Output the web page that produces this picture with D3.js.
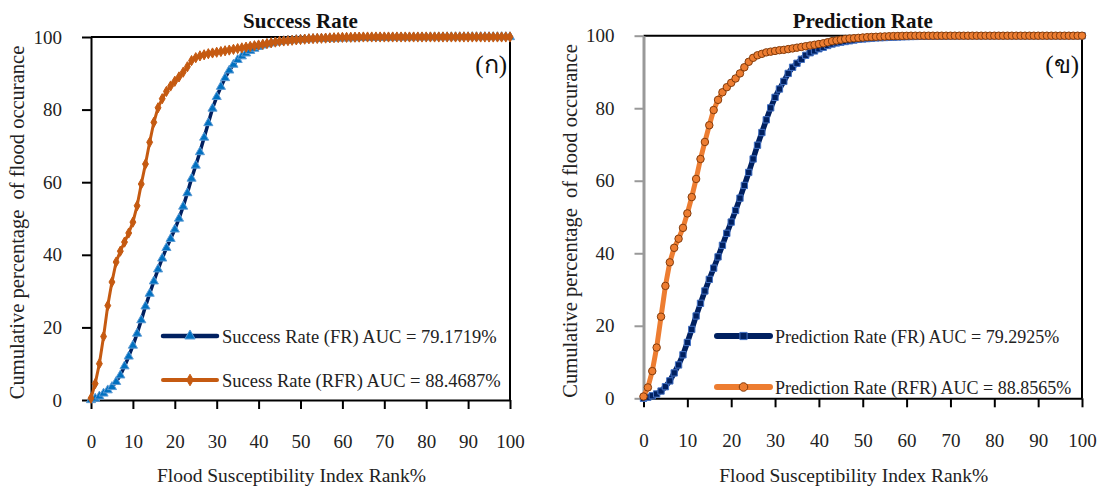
<!DOCTYPE html>
<html>
<head>
<meta charset="utf-8">
<script src="https://cdn.jsdelivr.net/npm/d3@7"></script>
<style>
  body { margin: 0; background: #fff; }
  svg { display: block; font-family: "Liberation Serif", "Times New Roman", serif; }
</style>
</head>
<body>
<div id="chart"></div>
<script>
const width = 1107;
const height = 486;

// rank % (x categories)
const rankPct = [0,1,2,3,4,5,6,7,8,9,10,11,12,13,14,15,16,17,18,19,20,21,22,23,24,25,26,27,28,29,30,
  31,32,33,34,35,36,37,38,39,40,41,42,43,44,45,46,47,48,49,50,51,52,53,54,55,56,57,58,59,60,
  61,62,63,64,65,66,67,68,69,70,71,72,73,74,75,76,77,78,79,80,81,82,83,84,85,86,87,88,89,90,
  91,92,93,94,95,96,97,98,99,100];

const xTicks = [0,10,20,30,40,50,60,70,80,90,100];
const yTicks = [0,20,40,60,80,100];

// success rate, FR
const successFR = [0,0.4,1,1.8,2.7,3.6,5,6.8,9.3,12,15,18.3,22,25.8,29.3,32.7,36,39,41.9,44.4,47,
  50,53.3,57,61,64.6,68.3,72.3,76.3,80.3,83.5,86.3,88.7,90.8,92.4,93.7,94.7,95.5,96.2,96.8,97.3,
  97.7,98,98.3,98.5,98.7,98.9,99,99.1,99.2,99.3,99.35,99.4,99.45,99.5,99.52,99.55,99.58,99.6,99.62,99.65,
  99.68,99.7,99.72,99.74,99.76,99.78,99.8,99.82,99.84,99.85,99.86,99.87,99.88,99.89,99.9,99.9,99.91,99.92,99.93,99.94,
  99.95,99.95,99.96,99.96,99.97,99.97,99.98,99.98,99.99,99.99,100,100,100,100,100,100,100,100,100,100];

// success rate, RFR
const successRFR = [0.5,4.5,10,17.5,26,32.5,38,41,43.5,46,49,53.5,59.5,65,71,76.5,80.5,83,85,86.5,87.8,
  89,90.3,91.8,93.5,94.3,94.8,95.1,95.4,95.6,95.8,96,96.2,96.4,96.6,96.8,97,97.2,97.4,97.6,97.8,
  98,98.2,98.4,98.6,98.8,98.9,99,99.1,99.2,99.3,99.4,99.5,99.55,99.6,99.65,99.7,99.75,99.8,99.85,99.9,
  99.9,99.92,99.95,99.97,100,100,100,100,100,100,100,100,100,100,100,100,100,100,100,100,
  100,100,100,100,100,100,100,100,100,100,100,100,100,100,100,100,100,100,100,100];

// prediction rate, FR
const predictionFR = [0,0.3,0.7,1.2,2,3.2,4.8,7,9.2,12,15.4,19,22.7,26.2,29.6,32.8,35.9,39,42.2,45.5,48.6,
  51.8,55.2,58.7,62.3,66,69.8,73.3,76.8,80.1,83,85.3,87.4,89.6,91.3,92.4,93.5,94.6,95.3,95.8,96.4,
  96.8,97.3,97.7,98,98.2,98.4,98.6,98.8,99,99.1,99.2,99.3,99.4,99.45,99.5,99.55,99.6,99.65,99.7,99.75,
  99.78,99.8,99.83,99.85,99.87,99.89,99.9,99.92,99.94,99.95,99.96,99.97,99.98,99.99,100,100,100,100,100,100,
  100,100,100,100,100,100,100,100,100,100,100,100,100,100,100,100,100,100,100,100];

// prediction rate, RFR
const predictionRFR = [0.5,3,7.5,14,22.5,31,37.5,41.5,44,47,51,55.5,60.5,66,70.7,75.3,79.5,82.3,84.4,85.8,87,
  88.2,89.6,91.3,92.8,93.9,94.6,95,95.4,95.6,95.8,96,96.1,96.3,96.5,96.7,96.9,97.1,97.3,97.5,97.7,
  97.9,98.2,98.5,98.7,98.9,99.1,99.2,99.3,99.4,99.5,99.6,99.65,99.7,99.75,99.8,99.85,99.9,99.92,99.95,99.97,
  100,100,100,100,100,100,100,100,100,100,100,100,100,100,100,100,100,100,100,100,
  100,100,100,100,100,100,100,100,100,100,100,100,100,100,100,100,100,100,100,100];

const svg = d3.select("#chart").append("svg")
    .attr("width", width)
    .attr("height", height);

function drawPanel(cfg) {
  const x = d3.scaleLinear().domain([0, 100]).range([cfg.left, cfg.right]);
  const y = d3.scaleLinear().domain([0, 100]).range([cfg.bottom, cfg.top]);
  const g = svg.append("g");

  // frame top + right
  g.append("path")
      .attr("d", `M${cfg.left},${cfg.top}H${cfg.right}V${cfg.bottom}`)
      .attr("fill", "none").attr("stroke", "#000").attr("stroke-width", 2);

  // y axis
  const ya = g.append("g")
      .attr("transform", `translate(${cfg.left},0)`)
      .call(d3.axisLeft(y).tickValues(yTicks).tickSize(9).tickSizeOuter(0).tickPadding(20));
  ya.select(".domain").attr("stroke", cfg.yAxisColor).attr("stroke-width", cfg.yAxisWidth);
  ya.selectAll(".tick line").attr("stroke", cfg.yAxisColor).attr("stroke-width", 2);
  ya.selectAll(".tick text").attr("fill", "#222").attr("font-size", 19)
      .attr("font-family", "Liberation Serif");

  // x axis
  const xa = g.append("g")
      .attr("transform", `translate(0,${cfg.bottom})`)
      .call(d3.axisBottom(x).tickValues(xTicks).tickSize(9).tickSizeOuter(0).tickPadding(26));
  xa.select(".domain").attr("stroke", "#000").attr("stroke-width", 2);
  xa.selectAll(".tick line").attr("stroke", "#000").attr("stroke-width", 2);
  xa.selectAll(".tick text").attr("fill", "#222").attr("font-size", 19)
      .attr("font-family", "Liberation Serif");

  // titles
  g.append("text")
      .attr("x", (cfg.left + cfg.right) / 2).attr("y", 28)
      .attr("text-anchor", "middle").attr("font-size", 21).attr("font-weight", "bold")
      .attr("fill", "#111").text(cfg.title);
  g.append("text")
      .attr("x", (cfg.left + cfg.right) / 2 - 9).attr("y", 482)
      .attr("text-anchor", "middle").attr("font-size", 19.5).attr("fill", "#222")
      .text("Flood Susceptibility Index Rank%");
  g.append("text")
      .attr("transform", `translate(${cfg.yTitleX},${(cfg.top + cfg.bottom) / 2 + 4}) rotate(-90)`)
      .attr("text-anchor", "middle").attr("font-size", 20.5).attr("fill", "#222")
      .style("white-space", "pre")
      .text("Cumulative percentage  of flood occurance");
  g.append("text")
      .attr("x", cfg.right - 3).attr("y", 73)
      .attr("text-anchor", "end").attr("font-size", 25).attr("fill", "#111")
      .text(cfg.tag);

  const line = d3.line().x((d, i) => x(rankPct[i])).y(d => y(d));

  cfg.series.forEach(s => {
    g.append("path")
        .datum(s.values)
        .attr("d", line)
        .attr("fill", "none")
        .attr("stroke", s.lineColor)
        .attr("stroke-width", s.lineWidth)
        .attr("stroke-linejoin", "round");
    g.append("g").selectAll("path")
        .data(s.values)
        .join("path")
        .attr("transform", (d, i) => `translate(${x(rankPct[i])},${y(d)})`)
        .attr("d", d3.symbol(s.symbol, s.size))
        .attr("fill", s.fill)
        .attr("stroke", s.stroke)
        .attr("stroke-width", 1);
  });

  // legend
  cfg.series.forEach((s, i) => {
    const ly = cfg.legendY[i];
    g.append("line")
        .attr("x1", cfg.legendX).attr("x2", cfg.legendX + cfg.legendLen)
        .attr("y1", ly).attr("y2", ly)
        .attr("stroke", s.lineColor).attr("stroke-width", s.legendWidth)
        .attr("stroke-linecap", "round");
    g.append("path")
        .attr("transform", `translate(${cfg.legendX + cfg.legendLen / 2},${ly})`)
        .attr("d", d3.symbol(s.symbol, s.size * 1.3))
        .attr("fill", s.fill).attr("stroke", s.stroke).attr("stroke-width", 1);
    g.append("text")
        .attr("x", cfg.legendX + cfg.legendLen + 5).attr("y", ly + 6.5)
        .attr("font-size", cfg.legendFont).attr("fill", "#222")
        .text(s.label);
  });
}

drawPanel({
  left: 91, right: 510, top: 37, bottom: 400,
  title: "Success Rate", tag: "(ก)", yTitleX: 24,
  yAxisColor: "#000", yAxisWidth: 2,
  legendX: 163, legendLen: 54, legendY: [336, 380], legendFont: 18.5,
  series: [
    { values: successFR, lineColor: "#002060", lineWidth: 3.5, legendWidth: 4.5,
      symbol: d3.symbolTriangle, size: 36, fill: "#0070C0", stroke: "#5B9BD5",
      label: "Success Rate (FR) AUC = 79.1719%" },
    { values: successRFR, lineColor: "#C55A11", lineWidth: 3, legendWidth: 4,
      symbol: d3.symbolDiamond, size: 30, fill: "#C55A11", stroke: "#C55A11",
      label: "Sucess Rate (RFR) AUC = 88.4687%" }
  ]
});

drawPanel({
  left: 643.5, right: 1082, top: 35.7, bottom: 398.3,
  title: "Prediction Rate", tag: "(ข)", yTitleX: 577,
  yAxisColor: "#999", yAxisWidth: 3,
  legendX: 717, legendLen: 53, legendY: [336, 387], legendFont: 18,
  series: [
    { values: predictionFR, lineColor: "#002060", lineWidth: 5.5, legendWidth: 6,
      symbol: d3.symbolSquare, size: 40, fill: "#002060", stroke: "#4472C4",
      label: "Prediction Rate (FR) AUC = 79.2925%" },
    { values: predictionRFR, lineColor: "#ED7D31", lineWidth: 5, legendWidth: 6,
      symbol: d3.symbolCircle, size: 44, fill: "#ED7D31", stroke: "#843C0C",
      label: "Prediction Rate (RFR) AUC = 88.8565%" }
  ]
});
</script>
</body>
</html>
